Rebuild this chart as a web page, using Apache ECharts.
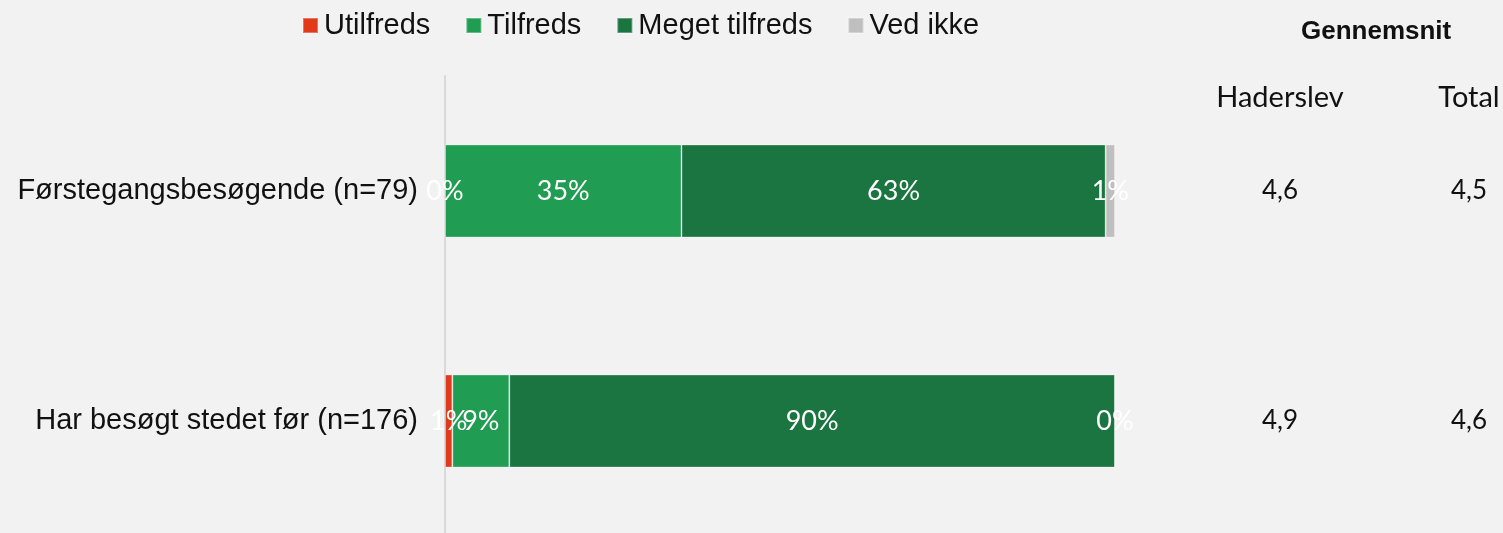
<!DOCTYPE html>
<html>
<head>
<meta charset="utf-8">
<script src="https://cdn.jsdelivr.net/npm/echarts@6/dist/echarts.min.js"></script>
<style>
  html, body { margin: 0; padding: 0; background: #f2f2f2; }
  #chart { width: 1503px; height: 533px; }
</style>
</head>
<body>
<div id="chart"></div>
<script>
const categories = ['Førstegangsbesøgende (n=79)', 'Har besøgt stedet før (n=176)'];
const seriesNames = ['Utilfreds', 'Tilfreds', 'Meget tilfreds', 'Ved ikke'];
const utilfreds = [0, 1.1];
const tilfreds = [35.3, 8.5];
const megetTilfreds = [63.3, 90.4];
const vedIkke = [1.4, 0];
const avgHaderslev = ['4,6', '4,9'];
const avgTotal = ['4,5', '4,6'];
const colors = ['#e03a1a', '#219c53', '#1a7540', '#bfbfbf'];

const chart = echarts.init(document.getElementById('chart'));

function barSeries(name, data, color) {
    return {
        name: name,
        type: 'bar',
        stack: 'all',
        barWidth: 93,
        data: data,
        itemStyle: { color: color, borderColor: 'rgba(255,255,255,0.3)', borderWidth: 1 },
        label: {
            show: true,
            position: 'inside',
            color: '#fff',
            fontFamily: 'Lato',
            fontSize: 27,
            formatter: p => Math.round(p.value) + '%'
        },
        emphasis: { disabled: true }
    };
}

// right-hand columns with the averages
function avgAxis(values, title, offset) {
    return {
        type: 'category',
        data: values,
        inverse: true,
        position: 'right',
        offset: offset,
        axisLine: { show: false },
        axisTick: { show: false },
        axisLabel: { margin: 0, align: 'center', color: '#111', fontFamily: 'Lato', fontSize: 26 },
        name: title,
        nameLocation: 'start',
        nameGap: -36,
        nameTextStyle: { color: '#111', fontFamily: 'Lato', fontSize: 29, align: 'center' }
    };
}

chart.setOption({
    backgroundColor: '#f2f2f2',
    animation: false,
    title: {
        text: 'Gennemsnit',
        left: 1296,
        top: 14,
        textStyle: { fontFamily: 'Liberation Sans', fontWeight: 'bold', fontSize: 26, color: '#111' }
    },
    legend: {
        left: 297,
        top: 6,
        itemWidth: 15,
        itemHeight: 15,
        itemGap: 35,
        icon: 'rect',
        textStyle: { fontFamily: 'Liberation Sans', fontSize: 29, color: '#111', padding: [0, 0, 0, 1] },
        data: seriesNames
    },
    grid: { left: 445, width: 670, top: 76, height: 460, outerBoundsMode: 'none' },
    xAxis: { type: 'value', min: 0, max: 100, show: false },
    yAxis: [
        {
            type: 'category',
            data: categories,
            inverse: true,
            axisLine: { show: true, lineStyle: { color: '#d9d9d9', width: 2 } },
            axisTick: { show: false },
            axisLabel: { margin: 27, color: '#111', fontFamily: 'Liberation Sans', fontSize: 29 }
        },
        avgAxis(avgHaderslev, 'Haderslev', 165),
        avgAxis(avgTotal, 'Total', 354)
    ],
    series: [
        barSeries(seriesNames[0], utilfreds, colors[0]),
        barSeries(seriesNames[1], tilfreds, colors[1]),
        barSeries(seriesNames[2], megetTilfreds, colors[2]),
        barSeries(seriesNames[3], vedIkke, colors[3])
    ]
});
</script>
</body>
</html>
